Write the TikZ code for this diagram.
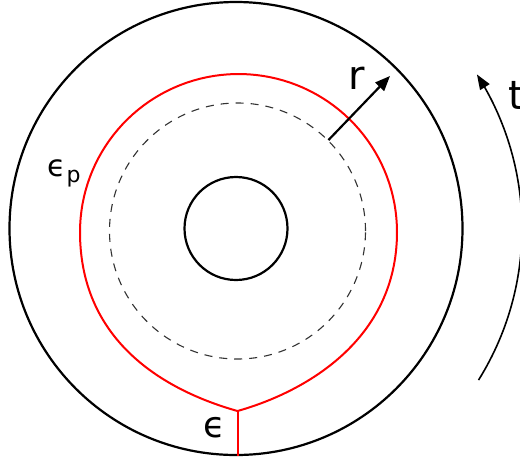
\documentclass[tikz,border=0pt]{standalone}
\usepackage{fontspec}
\setmainfont{DejaVu Sans}
\usetikzlibrary{arrows.meta}
\begin{document}
\begin{tikzpicture}[x=1pt,y=-1pt,
  ring/.style={draw=black, circle, inner sep=0pt, line width=2.2pt},
  redline/.style={draw=red, line width=2pt, line join=round},
  bigtxt/.style={inner sep=0pt, font=\fontsize{40}{40}\selectfont},
  epstxt/.style={inner sep=0pt, font=\fontsize{36}{36}\selectfont},
  arr/.style={line width=2.2pt, -{Triangle[length=15pt,width=12pt]}}]
\useasboundingbox (0,0) rectangle (520,456);
\fill[white] (0,0) rectangle (520,456);
\coordinate (c) at (236,228.5);
\node[ring, minimum size=453pt] (outer) at (c) {};
\node[ring, minimum size=103pt] (inner) at (c) {};
\node[circle, inner sep=0pt, minimum size=256pt, draw=black!80, line width=1.1pt, dash pattern=on 8pt off 7pt] (dashed) at (237.5,231) {};
% red curve
\coordinate (cusp) at (237.5,411);
\coordinate (rl) at (80,232);
\draw[redline] (cusp) .. controls (170,392) and (80,345) .. (rl)
  -- plot[domain=180:0, samples=72] ({238.5+158.5*cos(\x)},{232-158*sin(\x)})
  .. controls (397,340) and (305,392) .. (cusp);
\draw[redline] (cusp) -- (cusp |- outer.south);
% r arrow
\coordinate (rtip) at (390,76);
\draw[arr] (dashed.45) -- (rtip);
\node[bigtxt] (rlab) at (357,78) {r};
% t arc
\draw[line width=1.6pt, -{Triangle[length=15pt,width=11pt]}] plot[domain=32:-32.6, samples=60] ({236+286*cos(\x)}, {228.5+286*sin(\x)});
\node[bigtxt, anchor=west] (tlab) at (508,95) {t};
% epsilon labels
\node[epstxt] (eps) at (215,428) {ϵ};
\node[inner sep=0pt, anchor=base west] (epsp) at (47,176) {\fontsize{30}{30}\selectfont ϵ\hspace{1pt}\raisebox{-6pt}{\fontsize{22}{22}\selectfont p}};
\end{tikzpicture}
\end{document}
